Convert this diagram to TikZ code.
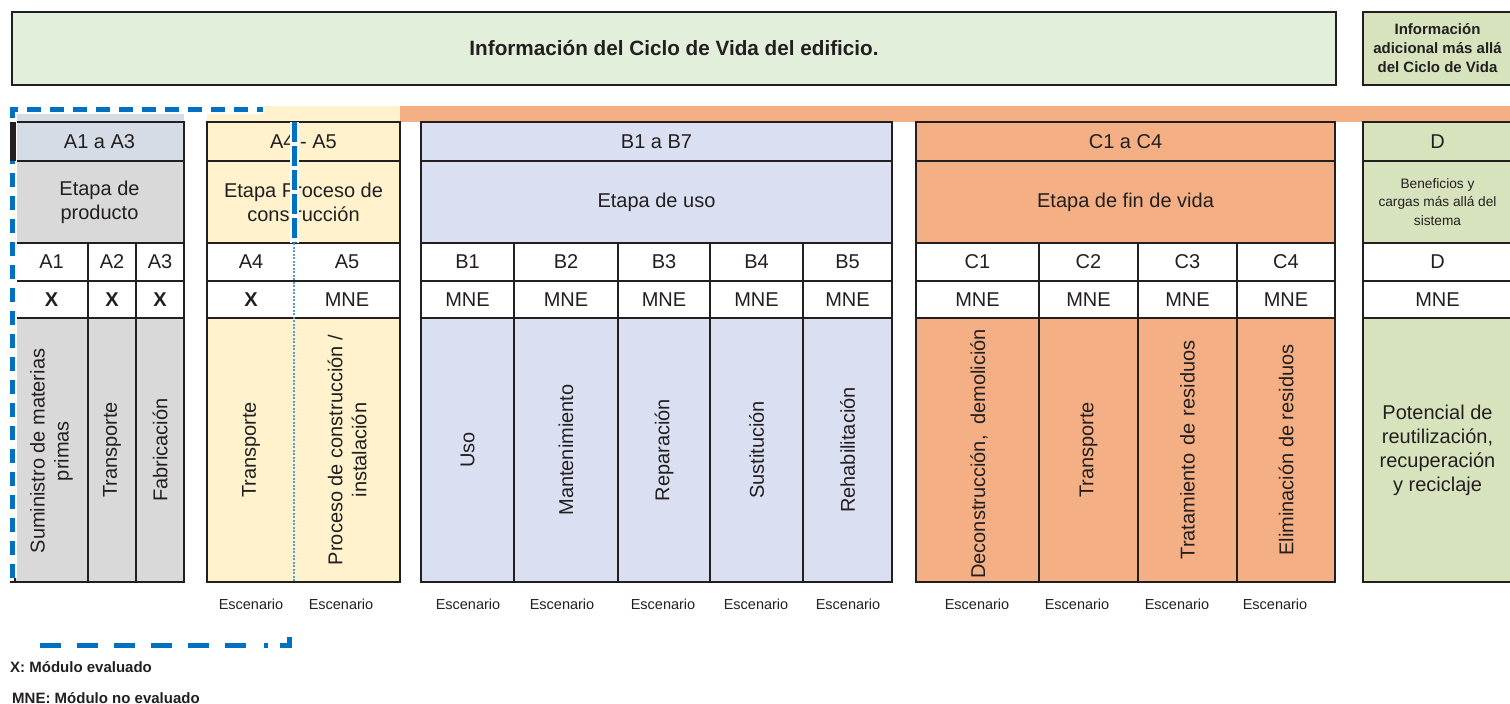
\documentclass[tikz,border=0pt]{standalone}
\usepackage{fontspec}
\setmainfont{Liberation Sans}
\definecolor{edge}{HTML}{231F20}
\definecolor{ink}{HTML}{231F20}
\definecolor{greenL}{HTML}{E2EFDA}
\definecolor{greenD}{HTML}{D7E3BC}
\definecolor{hdrA}{HTML}{D6DCE5}
\definecolor{grayA}{HTML}{D9D9D9}
\definecolor{yel}{HTML}{FFF2CC}
\definecolor{blueB}{HTML}{DAE0F2}
\definecolor{orC}{HTML}{F4B084}
\definecolor{dashblue}{HTML}{0070C0}
\definecolor{dotblue}{HTML}{5B9BD5}
\newcommand\mycell[8][]{%
  \node[cellbox, fill=#7, minimum width={#5-#3}, minimum height={#6-#4}, #1] (#2) at (#3,#4) {#8};}
\begin{document}
\begin{tikzpicture}[x=1pt,y=-1pt,
  cellbox/.style={draw=edge, line width=2.2pt, inner sep=0pt, outer sep=0pt, anchor=north west,
    text=ink, align=center, font=\fontsize{20}{24}\selectfont},
  lbl/.style={text=ink, align=center, inner sep=0pt, font=\fontsize{20}{24}\selectfont},
  vlbl/.style={lbl, rotate=90},
  scen/.style={text=ink, inner sep=0pt, font=\fontsize{14.5}{17}\selectfont},
  legend/.style={text=ink, inner sep=0pt, anchor=west, font=\fontsize{15}{18}\selectfont\bfseries},
  whiteunder/.style={draw=white, line width=8pt},
  blueline/.style={draw=dashblue, line width=5pt},
  dotline/.style={draw=dotblue, line width=1.2pt, dash pattern=on 2pt off 1.5pt}
]
\useasboundingbox (0,0) rectangle (1510,704);

% top boxes
\mycell[font=\fontsize{20.7}{24}\selectfont\bfseries]{top}{12}{12}{1336}{85}{greenL}{Información del Ciclo de Vida del edificio.}
\mycell[font=\fontsize{15}{19}\selectfont\bfseries]{topd}{1363}{12}{1512}{85}{greenD}{Información\\adicional más allá\\del Ciclo de Vida}

% bands
\fill[hdrA] (15,108) rectangle (184,122);
\fill[yel] (207,106) rectangle (400,122);
\fill[orC] (400,106) rectangle (1512,122);

% A1 a A3
\mycell{ah}{15}{122}{184}{161}{hdrA}{A1 a A3}
\mycell{ae}{15}{161}{184}{243}{grayA}{Etapa de\\producto}
\mycell{a1c}{15}{243}{88}{281}{white}{A1}
\mycell{a2c}{88}{243}{136}{281}{white}{A2}
\mycell{a3c}{136}{243}{184}{281}{white}{A3}
\mycell{a1x}{15}{281}{88}{318}{white}{\textbf{X}}
\mycell{a2x}{88}{281}{136}{318}{white}{\textbf{X}}
\mycell{a3x}{136}{281}{184}{318}{white}{\textbf{X}}
\mycell{a1v}{15}{318}{88}{582}{grayA}{}
\mycell{a2v}{88}{318}{136}{582}{grayA}{}
\mycell{a3v}{136}{318}{184}{582}{grayA}{}
\node[vlbl] (a1t) at (51.5,451) {Suministro de materias\\primas};
\node[vlbl] (a2t) at (a2v.center) {Transporte};
\node[vlbl] (a3t) at (a3v.center) {Fabricación};

% A4 - A5
\mycell{bh}{207}{122}{400}{161}{yel}{A4 - A5}
\mycell{be}{207}{161}{400}{243}{yel}{Etapa Proceso de\\construcción}
\mycell{bc}{207}{243}{400}{281}{white}{}
\mycell{bx}{207}{281}{400}{318}{white}{}
\mycell{bv}{207}{318}{400}{582}{yel}{}
\node[lbl] (a4c) at (251,262) {A4};
\node[lbl] (a5c) at (347,262) {A5};
\node[lbl] (a4x) at (251,300) {\textbf{X}};
\node[lbl] (a5x) at (347,300) {MNE};
\node[vlbl] (a4t) at (251,450) {Transporte};
\node[vlbl] (a5t) at (347,450) {Proceso de construcción /\\instalación};
\node[scen] (a4s) at (251,604) {Escenario};
\node[scen] (a5s) at (341,604) {Escenario};

% B1 a B7
\mycell{ch}{421}{122}{892}{161}{blueB}{B1 a B7}
\mycell{ce}{421}{161}{892}{243}{blueB}{Etapa de uso}
\foreach \i/\xa/\xb/\t/\s in {1/421/514/Uso/468, 2/514/618/Mantenimiento/562, 3/618/710/Reparación/663, 4/710/803/Sustitución/756, 5/803/892/Rehabilitación/848}{
  \mycell{bcode\i}{\xa}{243}{\xb}{281}{white}{B\i}
  \mycell{bmne\i}{\xa}{281}{\xb}{318}{white}{MNE}
  \mycell{bvert\i}{\xa}{318}{\xb}{582}{blueB}{}
  \node[vlbl] (btxt\i) at (bvert\i.center) {\t};
  \node[scen] (bsc\i) at (\s,604) {Escenario};
}

% C1 a C4
\mycell{dh1}{916}{122}{1335}{161}{orC}{C1 a C4}
\mycell{de1}{916}{161}{1335}{243}{orC}{Etapa de fin de vida}
\foreach \i/\xa/\xb/\s in {1/916/1039/977, 2/1039/1138/1077, 3/1138/1237/1177, 4/1237/1335/1275}{
  \mycell{ccode\i}{\xa}{243}{\xb}{281}{white}{C\i}
  \mycell{cmne\i}{\xa}{281}{\xb}{318}{white}{MNE}
  \mycell{cvert\i}{\xa}{318}{\xb}{582}{orC}{}
  \node[scen] (csc\i) at (\s,604) {Escenario};
}
\node[vlbl] (ctxt1) at (979,454) {Deconstrucción,\hspace{5pt} demolición};
\node[vlbl] (ctxt2) at (cvert2.center) {Transporte};
\node[vlbl] (ctxt3) at (cvert3.center) {Tratamiento\hspace{2pt} de\hspace{2pt} residuos};
\node[vlbl] (ctxt4) at (cvert4.center) {Eliminación de residuos};

% D
\mycell{eh}{1363}{122}{1512}{161}{greenD}{D}
\mycell[font=\fontsize{13.7}{18.7}\selectfont]{ee}{1363}{161}{1512}{243}{greenD}{Beneficios y\\cargas más allá del\\sistema}
\mycell{ec}{1363}{243}{1512}{281}{white}{D}
\mycell{ex}{1363}{281}{1512}{318}{white}{MNE}
\mycell{ev}{1363}{318}{1512}{582}{greenD}{Potencial de\\reutilización,\\recuperación\\y reciclaje}

% blue dashed frame
\draw[dotline] (294,243) -- (294,582);
\draw[whiteunder] (12.5,578) -- (12.5,109.5) -- (263,109.5);
\draw[blueline, dash pattern=on 14pt off 9pt] (12.5,578) -- (12.5,109.5) -- (263,109.5);
\fill[edge] (10,122) rectangle (16,161);
\draw[edge, line width=2.2pt] (10,582) -- (16,582);
\draw[draw=white, line width=9pt] (294,122) -- (294,243);
\draw[blueline, dash pattern=on 20pt off 4pt] (294,122) -- (294,243);
\draw[blueline, dash pattern=on 21pt off 16pt] (40,645.3) -- (250,645.3);
\draw[blueline] (264,645.3) -- (268,645.3);
\draw[blueline, line join=miter] (280,645.3) -- (289.5,645.3) -- (289.5,636.5);

% legend
\node[legend] (lx) at (10,667) {X: Módulo evaluado};
\node[legend] (lm) at (12,698) {MNE: Módulo no evaluado};
\end{tikzpicture}
\end{document}
